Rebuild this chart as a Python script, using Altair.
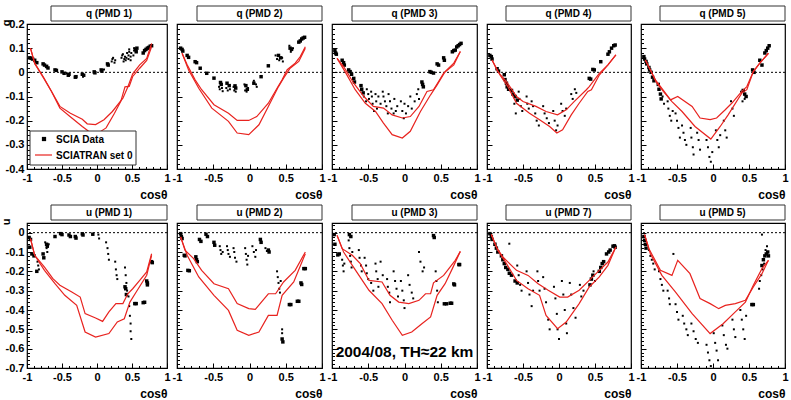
import altair as alt
import pandas as pd

FONT = "Liberation Sans"
RED = "#e8231f"

# ---------------------------------------------------------------- axis ticks
X_TICKS = [-1, -0.5, 0, 0.5, 1]
X_MINOR = [-0.9, -0.8, -0.7, -0.6, -0.4, -0.3, -0.2, -0.1,
           0.1, 0.2, 0.3, 0.4, 0.6, 0.7, 0.8, 0.9]
Q_TICKS = [-0.4, -0.3, -0.2, -0.1, 0, 0.1, 0.2]
U_TICKS = [-0.7, -0.6, -0.5, -0.4, -0.3, -0.2, -0.1, 0]
Q_MINOR = [round(-0.4 + 0.02 * k, 2) for k in range(31) if k % 5]
U_MINOR = [round(-0.7 + 0.02 * k, 2) for k in range(38) if k % 5]

LEGEND_DATA = "SCIA Data"
LEGEND_MODEL = "SCIATRAN set 0"
NOTE = "2004/08, TH≈22 km"

# ---------------------------------------------------------------- q (PMD 1)
q1_upper = [(-0.95, 0.10), (-0.89, 0.037), (-0.77, -0.017), (-0.675, -0.066), (-0.53, -0.141),
            (-0.38, -0.169), (-0.21, -0.194), (-0.14, -0.213), (-0.02, -0.216), (0.10, -0.196),
            (0.22, -0.162), (0.37, -0.107), (0.44, -0.061), (0.51, -0.006), (0.61, 0.031),
            (0.71, 0.058), (0.78, 0.12)]
q1_lower = [(-0.95, 0.10), (-0.89, 0.037), (-0.76, -0.025), (-0.65, -0.079), (-0.53, -0.148),
            (-0.36, -0.189), (-0.21, -0.224), (-0.12, -0.244), (-0.02, -0.258), (0.13, -0.23),
            (0.25, -0.169), (0.34, -0.12), (0.40, -0.06), (0.46, -0.058), (0.51, -0.017),
            (0.61, 0.017), (0.71, 0.049), (0.78, 0.106)]
q1_sq = [(-0.96, 0.06), (-0.94, 0.058), (-0.92, 0.055), (-0.89, 0.05), (-0.86, 0.04),
         (-0.77, 0.035), (-0.75, 0.03), (-0.72, 0.025), (-0.70, 0.018), (-0.60, 0.01),
         (-0.58, 0.008), (-0.50, 0.002), (-0.47, -0.004), (-0.41, -0.012), (-0.40, -0.008),
         (-0.31, -0.02), (-0.30, -0.018), (-0.21, -0.008), (-0.19, -0.012), (-0.04, 0.002),
         (-0.03, -0.002), (0.06, 0.01), (0.07, 0.005), (0.15, 0.035), (0.16, 0.03),
         (0.55, 0.095), (0.56, 0.085), (0.57, 0.10), (0.66, 0.08), (0.68, 0.09), (0.70, 0.095),
         (0.72, 0.10), (0.74, 0.103), (0.76, 0.108), (0.78, 0.11)]
q1_dots = [(0.21, 0.045), (0.22, 0.055), (0.23, 0.06), (0.25, 0.04), (0.26, 0.05),
           (0.35, 0.06), (0.36, 0.07), (0.37, 0.075), (0.38, 0.045), (0.39, 0.055),
           (0.40, 0.065), (0.41, 0.05), (0.42, 0.06), (0.43, 0.08), (0.45, 0.055),
           (0.45, 0.07), (0.46, 0.085), (0.46, 0.095), (0.48, 0.05), (0.48, 0.065),
           (0.49, 0.08), (0.52, 0.07), (0.53, 0.09), (0.53, 0.10), (-0.72, 0.02),
           (-0.43, -0.005), (-0.20, -0.018), (0.10, 0.012)]

# ---------------------------------------------------------------- u (PMD 1)
u1_upper = [(-0.95, -0.031), (-0.89, -0.117), (-0.75, -0.178), (-0.63, -0.238), (-0.53, -0.272),
            (-0.36, -0.307), (-0.24, -0.333), (-0.17, -0.419), (-0.02, -0.441), (0.08, -0.459),
            (0.17, -0.41), (0.27, -0.367), (0.37, -0.367), (0.44, -0.316), (0.51, -0.29),
            (0.61, -0.247), (0.71, -0.203), (0.78, -0.109)]
u1_lower = [(-0.95, -0.031), (-0.89, -0.117), (-0.75, -0.195), (-0.60, -0.264), (-0.46, -0.324),
            (-0.29, -0.376), (-0.17, -0.514), (-0.02, -0.54), (0.17, -0.522), (0.29, -0.462),
            (0.39, -0.445), (0.47, -0.359), (0.56, -0.307), (0.71, -0.22), (0.78, -0.117)]
u1_sq = [(-0.97, -0.025), (-0.95, -0.035), (-0.96, -0.075), (-0.93, -0.11), (-0.90, -0.12),
         (-0.86, -0.20), (-0.77, -0.11), (-0.76, -0.13), (-0.72, -0.06), (-0.71, -0.07),
         (-0.60, -0.02), (-0.52, -0.005), (-0.50, -0.01), (-0.40, -0.012), (-0.38, -0.02),
         (-0.31, -0.02), (-0.30, -0.028), (-0.21, -0.006), (-0.20, -0.012), (-0.06, -0.008),
         (0.40, -0.28), (0.41, -0.29), (0.42, -0.32), (0.54, -0.367), (0.56, -0.367),
         (0.66, -0.362), (0.68, -0.36), (0.71, -0.25), (0.72, -0.26), (0.72, -0.27),
         (0.78, -0.15), (0.79, -0.155)]
u1_dots = [(-0.85, -0.15), (-0.84, -0.17), (-0.83, -0.19), (-0.74, -0.05), (-0.72, -0.08),
           (-0.71, -0.10), (-0.69, -0.06), (0.02, -0.01), (0.03, -0.03), (0.13, -0.05),
           (0.15, -0.08), (0.16, -0.11), (0.17, -0.14), (0.26, -0.15), (0.27, -0.19),
           (0.28, -0.22), (0.29, -0.24), (0.40, -0.18), (0.41, -0.22), (0.42, -0.26),
           (0.43, -0.30), (0.45, -0.33), (0.46, -0.38), (0.47, -0.43), (0.48, -0.47),
           (0.48, -0.51), (0.49, -0.55)]

# ---------------------------------------------------------------- q (PMD 2)
q2_upper = [(-0.93, 0.079), (-0.86, 0.031), (-0.75, -0.031), (-0.66, -0.072), (-0.49, -0.134),
            (-0.29, -0.169), (-0.17, -0.199), (-0.01, -0.199), (0.10, -0.183), (0.26, -0.128),
            (0.38, -0.066), (0.45, -0.031), (0.52, 0.011), (0.63, 0.038), (0.70, 0.065),
            (0.77, 0.106)]
q2_lower = [(-0.93, 0.079), (-0.84, 0.01), (-0.70, -0.066), (-0.52, -0.148), (-0.29, -0.203),
            (-0.17, -0.251), (-0.01, -0.258), (0.13, -0.217), (0.26, -0.141), (0.40, -0.059),
            (0.47, -0.024), (0.56, 0.017), (0.68, 0.045), (0.77, 0.10)]
q2_sq = [(-0.95, 0.10), (-0.93, 0.095), (-0.92, 0.088), (-0.86, 0.07), (-0.84, 0.062),
         (-0.75, 0.044), (-0.73, 0.04), (-0.68, 0.017), (-0.59, -0.004), (-0.49, -0.024),
         (-0.40, -0.042), (-0.39, -0.05), (-0.31, -0.045), (-0.28, -0.055), (-0.20, -0.056),
         (-0.19, -0.065), (-0.05, -0.055), (-0.03, -0.07), (0.06, -0.045), (0.16, -0.018),
         (0.26, 0.027), (0.40, 0.07), (0.43, 0.06), (0.56, 0.10), (0.58, 0.095), (0.68, 0.125),
         (0.70, 0.13), (0.72, 0.138), (0.74, 0.142), (0.76, 0.145)]
q2_dots = [(-0.42, -0.06), (-0.41, -0.07), (-0.38, -0.065), (-0.37, -0.078), (-0.32, -0.065),
           (-0.30, -0.075), (-0.27, -0.07), (-0.22, -0.06), (-0.21, -0.075), (-0.19, -0.08),
           (-0.07, -0.05), (-0.06, -0.075), (-0.04, -0.08), (-0.02, -0.065), (0.06, -0.035),
           (0.09, -0.05), (0.10, -0.06), (0.36, 0.07), (0.38, 0.055), (0.41, 0.05),
           (0.45, 0.06), (0.46, 0.045), (0.55, 0.11), (0.57, 0.085), (0.60, 0.10)]

# ---------------------------------------------------------------- u (PMD 2)
u2_upper = [(-0.95, -0.022), (-0.89, -0.091), (-0.77, -0.134), (-0.66, -0.195), (-0.49, -0.264),
            (-0.29, -0.29), (-0.17, -0.367), (-0.01, -0.393), (0.08, -0.397), (0.26, -0.316),
            (0.36, -0.316), (0.47, -0.255), (0.63, -0.195), (0.77, -0.10)]
u2_lower = [(-0.95, -0.022), (-0.86, -0.117), (-0.70, -0.229), (-0.49, -0.324), (-0.29, -0.402),
            (-0.17, -0.505), (-0.01, -0.531), (0.13, -0.514), (0.26, -0.428), (0.38, -0.428),
            (0.45, -0.324), (0.61, -0.255), (0.77, -0.109)]
u2_sq = [(-0.95, -0.005), (-0.94, -0.02), (-0.93, -0.03), (-0.90, -0.117), (-0.89, -0.12),
         (-0.85, -0.195), (-0.83, -0.197), (-0.74, -0.125), (-0.73, -0.14), (-0.72, -0.15),
         (-0.69, -0.035), (-0.67, -0.045), (-0.60, -0.008), (-0.58, -0.02), (-0.49, -0.05),
         (-0.48, -0.065), (0.15, -0.035), (0.16, -0.05), (0.26, -0.09), (0.27, -0.10),
         (0.45, -0.55), (0.46, -0.565), (0.55, -0.372), (0.57, -0.372), (0.66, -0.355),
         (0.68, -0.355), (0.71, -0.26), (0.72, -0.268), (0.75, -0.186), (0.77, -0.186)]
u2_dots = [(-0.41, -0.07), (-0.40, -0.09), (-0.39, -0.11), (-0.37, -0.10), (-0.31, -0.07),
           (-0.30, -0.09), (-0.29, -0.11), (-0.27, -0.125), (-0.22, -0.08), (-0.21, -0.10),
           (-0.20, -0.13), (-0.18, -0.15), (-0.06, -0.08), (-0.05, -0.11), (-0.04, -0.14),
           (-0.03, -0.165), (-0.02, -0.12), (0.04, -0.07), (0.06, -0.10), (0.08, -0.125),
           (0.09, -0.09), (0.22, -0.08), (0.24, -0.095), (0.38, -0.20), (0.39, -0.23),
           (0.40, -0.26), (0.41, -0.29), (0.42, -0.31), (0.43, -0.25), (0.45, -0.50),
           (0.45, -0.52)]

# ---------------------------------------------------------------- q (PMD 3)
q3_upper = [(-0.93, 0.058), (-0.84, 0.024), (-0.70, -0.045), (-0.56, -0.10), (-0.43, -0.141),
            (-0.29, -0.148), (-0.17, -0.176), (-0.03, -0.189), (0.08, -0.183), (0.20, -0.141),
            (0.31, -0.079), (0.40, -0.072), (0.47, -0.038), (0.54, -0.003), (0.68, 0.031),
            (0.77, 0.086)]
q3_lower = [(-0.93, 0.058), (-0.82, 0.003), (-0.68, -0.072), (-0.54, -0.128), (-0.40, -0.162),
            (-0.29, -0.21), (-0.17, -0.258), (-0.03, -0.272), (0.08, -0.244), (0.22, -0.162),
            (0.36, -0.093), (0.45, -0.052), (0.56, 0.003), (0.68, 0.038), (0.77, 0.086)]
q3_sq = [(-0.96, 0.09), (-0.95, 0.08), (-0.94, 0.075), (-0.86, 0.05), (-0.84, 0.04),
         (-0.83, 0.03), (-0.77, 0.01), (-0.75, 0.003), (-0.73, -0.008), (-0.70, -0.025),
         (-0.69, -0.04), (-0.60, -0.055), (-0.59, -0.07), (-0.57, -0.085), (0.24, -0.04),
         (0.25, -0.05), (0.26, -0.06), (0.35, 0.003), (0.37, 0.0), (0.40, -0.003),
         (0.45, 0.035), (0.47, 0.03), (0.54, 0.06), (0.55, 0.05), (0.66, 0.085), (0.68, 0.09),
         (0.70, 0.092), (0.72, 0.105), (0.74, 0.11), (0.76, 0.115), (0.78, 0.12)]
q3_dots = [(-0.56, -0.10), (-0.53, -0.12), (-0.52, -0.07), (-0.50, -0.09), (-0.49, -0.11),
           (-0.46, -0.08), (-0.45, -0.10), (-0.44, -0.13), (-0.42, -0.16), (-0.40, -0.09),
           (-0.39, -0.12), (-0.38, -0.15), (-0.36, -0.10), (-0.33, -0.13), (-0.30, -0.08),
           (-0.29, -0.10), (-0.27, -0.12), (-0.25, -0.14), (-0.23, -0.17), (-0.22, -0.09),
           (-0.20, -0.12), (-0.18, -0.15), (-0.15, -0.17), (-0.14, -0.11), (-0.12, -0.16),
           (-0.10, -0.14), (-0.05, -0.12), (-0.03, -0.16), (-0.01, -0.19), (0.0, -0.13),
           (0.02, -0.17), (0.05, -0.14), (0.08, -0.10), (0.10, -0.15), (0.14, -0.12),
           (0.17, -0.09), (0.19, -0.07), (0.20, -0.11)]

# ---------------------------------------------------------------- u (PMD 3)
u3_upper = [(-0.93, -0.014), (-0.86, -0.083), (-0.72, -0.117), (-0.61, -0.16), (-0.49, -0.247),
            (-0.31, -0.255), (-0.20, -0.324), (-0.08, -0.359), (0.06, -0.367), (0.20, -0.35),
            (0.29, -0.316), (0.36, -0.316), (0.40, -0.259), (0.54, -0.221), (0.70, -0.143),
            (0.77, -0.097)]
u3_lower = [(-0.93, -0.014), (-0.84, -0.10), (-0.72, -0.169), (-0.49, -0.298), (-0.31, -0.367),
            (-0.17, -0.453), (-0.03, -0.531), (0.10, -0.514), (0.24, -0.471), (0.36, -0.436),
            (0.45, -0.324), (0.56, -0.264), (0.66, -0.186), (0.77, -0.097)]
u3_sq = [(-0.97, -0.01), (-0.96, -0.06), (-0.92, -0.115), (-0.90, -0.11), (-0.76, -0.01),
         (-0.74, -0.02), (0.40, -0.015), (0.41, -0.025), (0.75, -0.165), (0.76, -0.165),
         (0.68, -0.265), (0.69, -0.27), (0.55, -0.368), (0.58, -0.368), (0.63, -0.365),
         (0.65, -0.365)]
u3_dots = [(-0.86, -0.14), (-0.85, -0.17), (-0.84, -0.20), (-0.83, -0.16), (-0.77, -0.04),
           (-0.76, -0.08), (-0.75, -0.12), (-0.74, -0.15), (-0.73, -0.18), (-0.72, -0.10),
           (-0.63, -0.09), (-0.62, -0.13), (-0.60, -0.17), (-0.59, -0.20), (-0.55, -0.13),
           (-0.53, -0.17), (-0.52, -0.21), (-0.50, -0.24), (-0.46, -0.26), (-0.43, -0.30),
           (-0.40, -0.16), (-0.39, -0.20), (-0.37, -0.24), (-0.36, -0.28), (-0.33, -0.15),
           (-0.30, -0.22), (-0.24, -0.24), (-0.23, -0.28), (-0.21, -0.31), (-0.20, -0.36),
           (-0.15, -0.20), (-0.13, -0.25), (-0.11, -0.29), (-0.09, -0.33), (-0.05, -0.25),
           (-0.03, -0.30), (-0.01, -0.35), (0.0, -0.39), (0.05, -0.22), (0.07, -0.27),
           (0.10, -0.31), (0.12, -0.34), (0.20, -0.10), (0.22, -0.15), (0.25, -0.20),
           (0.27, -0.18), (0.43, -0.20), (0.44, -0.25), (0.45, -0.30), (0.46, -0.36)]

# ---------------------------------------------------------------- q (PMD 4)
q4_upper = [(-0.93, 0.051), (-0.85, 0.003), (-0.73, -0.038), (-0.59, -0.10), (-0.50, -0.121),
            (-0.32, -0.141), (-0.18, -0.162), (-0.02, -0.176), (0.10, -0.155), (0.21, -0.121),
            (0.38, -0.072), (0.42, -0.059), (0.56, -0.004), (0.68, 0.031), (0.79, 0.072)]
q4_lower = [(-0.93, 0.051), (-0.82, -0.011), (-0.71, -0.059), (-0.59, -0.128), (-0.41, -0.169),
            (-0.27, -0.196), (-0.13, -0.224), (-0.03, -0.251), (0.05, -0.238), (0.17, -0.176),
            (0.28, -0.128), (0.40, -0.079), (0.45, -0.072), (0.56, -0.011), (0.68, 0.031),
            (0.79, 0.072)]
q4_sq = [(-0.96, 0.07), (-0.94, 0.065), (-0.93, 0.055), (-0.86, 0.015), (-0.84, 0.005),
         (-0.76, -0.01), (-0.75, -0.03), (-0.73, -0.045), (-0.72, -0.06), (-0.70, -0.07),
         (-0.66, -0.075), (-0.64, -0.09), (-0.61, -0.10), (-0.58, -0.115), (0.42, -0.025),
         (0.44, -0.028), (0.47, 0.012), (0.49, 0.01), (0.58, 0.044), (0.68, 0.075),
         (0.70, 0.085), (0.73, 0.10), (0.76, 0.11), (0.78, 0.113)]
q4_dots = [(-0.62, -0.13), (-0.60, -0.17), (-0.56, -0.08), (-0.55, -0.11), (-0.53, -0.14),
           (-0.51, -0.16), (-0.45, -0.10), (-0.44, -0.13), (-0.42, -0.15), (-0.38, -0.12),
           (-0.36, -0.14), (-0.33, -0.17), (-0.31, -0.20), (-0.28, -0.22), (-0.22, -0.14),
           (-0.20, -0.17), (-0.17, -0.19), (-0.14, -0.21), (-0.08, -0.16), (-0.06, -0.20),
           (-0.04, -0.24), (-0.02, -0.22), (0.03, -0.13), (0.05, -0.16), (0.08, -0.18),
           (0.10, -0.15), (0.17, -0.09), (0.19, -0.11), (0.22, -0.07), (0.24, -0.085)]

# ---------------------------------------------------------------- u (PMD 7)
u7_upper = [(-0.94, -0.01), (-0.87, -0.074), (-0.78, -0.126), (-0.59, -0.195), (-0.43, -0.221),
            (-0.29, -0.264), (-0.15, -0.298), (0.01, -0.333), (0.12, -0.333), (0.28, -0.298),
            (0.42, -0.247), (0.56, -0.195), (0.68, -0.152), (0.79, -0.074)]
u7_lower = [(-0.94, -0.01), (-0.85, -0.091), (-0.73, -0.16), (-0.59, -0.247), (-0.43, -0.29),
            (-0.27, -0.324), (-0.18, -0.428), (-0.02, -0.497), (0.10, -0.462), (0.28, -0.367),
            (0.42, -0.281), (0.56, -0.229), (0.68, -0.169), (0.79, -0.074)]
u7_sq = [(-0.96, -0.005), (-0.94, -0.02), (-0.93, -0.035), (-0.89, -0.06), (-0.87, -0.08),
         (-0.85, -0.10), (-0.80, -0.12), (-0.78, -0.14), (-0.76, -0.16), (-0.74, -0.18),
         (-0.71, -0.19), (-0.69, -0.21), (-0.66, -0.22), (-0.61, -0.25), (-0.58, -0.26),
         (0.43, -0.27), (0.45, -0.24), (0.47, -0.22), (0.56, -0.20), (0.58, -0.18),
         (0.60, -0.16), (0.62, -0.15), (0.66, -0.11), (0.69, -0.10), (0.71, -0.09),
         (0.75, -0.07), (0.77, -0.068), (0.78, -0.075)]
u7_dots = [(-0.69, -0.057), (-0.58, -0.17), (-0.56, -0.22), (-0.54, -0.27), (-0.52, -0.30),
           (-0.45, -0.20), (-0.43, -0.26), (-0.41, -0.32), (-0.38, -0.38), (-0.36, -0.30),
           (-0.30, -0.20), (-0.29, -0.25), (-0.27, -0.30), (-0.22, -0.23), (-0.20, -0.29),
           (-0.18, -0.36), (-0.15, -0.45), (-0.13, -0.50), (-0.07, -0.28), (-0.05, -0.34),
           (-0.03, -0.42), (-0.02, -0.50), (0.0, -0.55), (0.04, -0.25), (0.06, -0.32),
           (0.08, -0.40), (0.10, -0.47), (0.11, -0.52), (0.15, -0.26), (0.17, -0.32),
           (0.20, -0.39), (0.23, -0.44), (0.29, -0.27), (0.31, -0.33), (0.34, -0.30),
           (0.48, -0.20), (0.50, -0.25)]

# ---------------------------------------------------------------- q (PMD 5)
q5_upper = [(-0.94, 0.051), (-0.87, 0.01), (-0.80, -0.031), (-0.71, -0.066), (-0.59, -0.114),
            (-0.49, -0.10), (-0.29, -0.141), (-0.18, -0.189), (-0.04, -0.196), (0.05, -0.189),
            (0.17, -0.155), (0.26, -0.128), (0.40, -0.079), (0.47, -0.059), (0.56, 0.003),
            (0.65, 0.038), (0.77, 0.079)]
q5_lower = [(-0.94, 0.051), (-0.87, 0.01), (-0.78, -0.045), (-0.69, -0.079), (-0.57, -0.121),
            (-0.43, -0.162), (-0.25, -0.224), (-0.03, -0.276), (0.10, -0.224), (0.21, -0.176),
            (0.40, -0.086), (0.47, -0.072), (0.56, 0.003), (0.65, 0.038), (0.77, 0.079)]
q5_sq = [(-0.96, 0.065), (-0.95, 0.055), (-0.93, 0.045), (-0.92, 0.035), (-0.89, 0.02),
         (-0.88, 0.01), (-0.86, 0.0), (-0.84, -0.02), (-0.82, -0.035), (-0.76, -0.05),
         (-0.75, -0.07), (-0.73, -0.09), (-0.72, -0.11), (0.42, -0.075), (0.44, -0.09),
         (0.46, -0.10), (0.55, 0.01), (0.57, 0.0), (0.65, 0.05), (0.68, 0.03), (0.72, 0.08),
         (0.74, 0.09), (0.76, 0.10), (0.78, 0.11)]
q5_dots = [(-0.70, -0.10), (-0.68, -0.13), (-0.63, -0.12), (-0.62, -0.15), (-0.60, -0.18),
           (-0.58, -0.20), (-0.56, -0.16), (-0.52, -0.17), (-0.50, -0.20), (-0.48, -0.23),
           (-0.46, -0.27), (-0.43, -0.22), (-0.41, -0.25), (-0.39, -0.28), (-0.37, -0.30),
           (-0.31, -0.23), (-0.30, -0.27), (-0.28, -0.31), (-0.27, -0.34), (-0.22, -0.25),
           (-0.20, -0.28), (-0.18, -0.32), (-0.09, -0.28), (-0.07, -0.31), (-0.05, -0.35),
           (-0.03, -0.37), (-0.01, -0.33), (0.04, -0.24), (0.06, -0.28), (0.08, -0.31),
           (0.10, -0.26), (0.15, -0.20), (0.17, -0.24), (0.19, -0.27), (0.25, -0.12),
           (0.27, -0.15), (0.29, -0.18), (0.39, -0.08), (0.41, -0.12), (0.44, -0.11)]

# ---------------------------------------------------------------- u (PMD 5)
u5_upper = [(-0.95, -0.01), (-0.89, -0.083), (-0.73, -0.195), (-0.57, -0.221), (-0.49, -0.143),
            (-0.32, -0.212), (-0.18, -0.341), (-0.04, -0.367), (0.08, -0.393), (0.17, -0.376),
            (0.31, -0.367), (0.45, -0.35), (0.56, -0.281), (0.68, -0.212), (0.77, -0.143)]
u5_lower = [(-0.95, -0.01), (-0.87, -0.109), (-0.71, -0.221), (-0.52, -0.307), (-0.29, -0.419),
            (-0.04, -0.522), (0.14, -0.471), (0.31, -0.41), (0.45, -0.359), (0.56, -0.272),
            (0.68, -0.186), (0.77, -0.143)]
u5_sq = [(-0.96, -0.02), (-0.95, -0.04), (-0.94, -0.06), (-0.93, -0.08), (0.54, -0.372),
         (0.56, -0.372), (0.68, -0.17), (0.70, -0.14), (0.72, -0.12), (0.74, -0.11),
         (0.76, -0.10), (0.77, -0.12)]
u5_dots = [(-0.89, -0.09), (-0.87, -0.12), (-0.85, -0.14), (-0.83, -0.16), (-0.81, -0.19),
           (-0.75, -0.20), (-0.73, -0.24), (-0.71, -0.27), (-0.69, -0.30), (-0.63, -0.30),
           (-0.61, -0.34), (-0.60, -0.37), (-0.55, -0.11), (-0.52, -0.37), (-0.50, -0.41),
           (-0.48, -0.45), (-0.42, -0.43), (-0.40, -0.47), (-0.37, -0.50), (-0.35, -0.53),
           (-0.30, -0.47), (-0.27, -0.51), (-0.24, -0.55), (-0.21, -0.57), (-0.09, -0.58),
           (-0.07, -0.62), (-0.05, -0.66), (-0.03, -0.69), (0.01, -0.52), (0.03, -0.57),
           (0.05, -0.61), (0.07, -0.66), (0.13, -0.48), (0.15, -0.53), (0.18, -0.58),
           (0.20, -0.60), (0.27, -0.45), (0.29, -0.50), (0.31, -0.54), (0.38, -0.40),
           (0.40, -0.45), (0.42, -0.50), (0.44, -0.55), (0.46, -0.43), (0.64, -0.29),
           (0.65, -0.25), (0.67, -0.22), (0.68, -0.01), (0.69, -0.19), (0.71, -0.16),
           (0.73, -0.09), (0.75, -0.07)]


def xy(pairs):
    return pd.DataFrame(pairs, columns=["x", "y"])


def curve(pairs):
    df = xy(pairs)
    df["i"] = range(len(df))
    return df


H = 145


def panel(kind, title, upper, lower, squares, dots, width, first=False, legend=False, note=False):
    ydom = [-0.4, 0.2] if kind == "q" else [-0.7, 0.05]
    ymajor = Q_TICKS if kind == "q" else U_TICKS
    yminor = Q_MINOR if kind == "q" else U_MINOR
    xs = alt.Scale(domain=[-1, 1], nice=False, zero=False)
    ys = alt.Scale(domain=ydom, nice=False, zero=False)
    lab = dict(labelFont=FONT, labelFontWeight="bold", labelFontSize=11,
               labelColor="black", labelExpr="'' + datum.value",
               labelOverlap=False, labelFlush=False, labelBound=False,
               ticks=False, domain=False, grid=False)

    x_lab = alt.Axis(values=X_TICKS, labelPadding=3, title="cosθ", titleFont=FONT,
                     titleFontWeight="bold", titleFontSize=12, titleColor="black",
                     titleAnchor="end", titleAlign="right", titleX=width, titleY=29,
                     titleBaseline="alphabetic", **lab)
    if first:
        y_lab = alt.Axis(values=ymajor, labelPadding=3, title=kind, titleFont=FONT,
                         titleFontWeight="bold", titleFontSize=11, titleColor="black",
                         titleAngle=-90, titleAnchor="end", titleAlign="right",
                         titleX=-18, titleY=-5, titleBaseline="alphabetic", **lab)
    else:
        y_lab = None

    def ticks(orient, offset, values, size):
        return alt.Axis(orient=orient, offset=offset, values=values, labels=False,
                        tickSize=size, tickColor="black", tickWidth=1,
                        domain=False, grid=False, title=None)

    zero = alt.Chart(pd.DataFrame({"y": [0]})).mark_rule(
        color="black", strokeDash=[2, 2], strokeWidth=1
    ).encode(y=alt.Y("y:Q", scale=ys, axis=None))

    dot_layer = alt.Chart(xy(dots)).mark_square(size=4, color="black", opacity=1).encode(
        x=alt.X("x:Q", scale=xs, axis=None), y=alt.Y("y:Q", scale=ys, axis=None))

    sq_layer = alt.Chart(xy(squares)).mark_square(size=12, color="black", opacity=1).encode(
        x=alt.X("x:Q", scale=xs, axis=x_lab), y=alt.Y("y:Q", scale=ys, axis=y_lab))

    up_layer = alt.Chart(curve(upper)).mark_line(color=RED, strokeWidth=1.2).encode(
        x=alt.X("x:Q", scale=xs, axis=ticks("top", -H, X_TICKS, 5)),
        y=alt.Y("y:Q", scale=ys, axis=ticks("right", -width, ymajor, 5)),
        order=alt.Order("i:Q"))

    lo_layer = alt.Chart(curve(lower)).mark_line(color=RED, strokeWidth=1.2).encode(
        x=alt.X("x:Q", scale=xs, axis=ticks("top", -H, X_MINOR, 2.5)),
        y=alt.Y("y:Q", scale=ys, axis=ticks("right", -width, yminor, 2.5)),
        order=alt.Order("i:Q"))

    layers = [zero, dot_layer, sq_layer, up_layer, lo_layer]

    if legend:
        box = alt.Chart(pd.DataFrame({"k": [0]})).mark_rect(
            fill="white", stroke="#333333", strokeWidth=1
        ).encode(x=alt.value(3), x2=alt.value(109), y=alt.value(107), y2=alt.value(141))
        mk = alt.Chart(pd.DataFrame({"k": [0]})).mark_square(size=18, color="black", opacity=1).encode(
            x=alt.value(17), y=alt.value(115))
        ln = alt.Chart(pd.DataFrame({"k": [0]})).mark_rule(color=RED, strokeWidth=1.2).encode(
            x=alt.value(8), x2=alt.value(25), y=alt.value(131))
        t1 = alt.Chart(pd.DataFrame({"label": [LEGEND_DATA]})).mark_text(
            font=FONT, fontWeight="bold", fontSize=10, color="black", align="left", baseline="middle"
        ).encode(x=alt.value(29), y=alt.value(116), text="label:N")
        t2 = alt.Chart(pd.DataFrame({"label": [LEGEND_MODEL]})).mark_text(
            font=FONT, fontWeight="bold", fontSize=10, color="black", align="left", baseline="middle"
        ).encode(x=alt.value(29), y=alt.value(132), text="label:N")
        layers += [box, mk, ln, t1, t2]

    if note:
        layers.append(alt.Chart(pd.DataFrame({"label": [NOTE]})).mark_text(
            font=FONT, fontWeight="bold", fontSize=15.5, color="black", align="center",
            baseline="middle"
        ).encode(x=alt.value(width / 2), y=alt.value(129), text="label:N"))

    bx0 = 24 if first else width - 125
    tbox = alt.Chart(pd.DataFrame({"label": [title]})).mark_rect(
        fill="white", stroke="#333333", strokeWidth=1
    ).encode(x=alt.value(bx0), x2=alt.value(width), y=alt.value(-18), y2=alt.value(-3))
    ttxt = alt.Chart(pd.DataFrame({"label": [title]})).mark_text(
        font=FONT, fontWeight="bold", fontSize=10, color="black", align="center", baseline="middle"
    ).encode(x=alt.value((bx0 + width) / 2), y=alt.value(-10.5), text="label:N")
    layers += [tbox, ttxt]

    return alt.layer(*layers).properties(width=width, height=H).resolve_axis(
        x="independent", y="independent")


WIDTHS = [140, 145, 145, 144, 144]

panels = [
    panel("q", "q (PMD 1)", q1_upper, q1_lower, q1_sq, q1_dots, WIDTHS[0], first=True, legend=True),
    panel("q", "q (PMD 2)", q2_upper, q2_lower, q2_sq, q2_dots, WIDTHS[1]),
    panel("q", "q (PMD 3)", q3_upper, q3_lower, q3_sq, q3_dots, WIDTHS[2]),
    panel("q", "q (PMD 4)", q4_upper, q4_lower, q4_sq, q4_dots, WIDTHS[3]),
    panel("q", "q (PMD 5)", q5_upper, q5_lower, q5_sq, q5_dots, WIDTHS[4]),
    panel("u", "u (PMD 1)", u1_upper, u1_lower, u1_sq, u1_dots, WIDTHS[0], first=True),
    panel("u", "u (PMD 2)", u2_upper, u2_lower, u2_sq, u2_dots, WIDTHS[1]),
    panel("u", "u (PMD 3)", u3_upper, u3_lower, u3_sq, u3_dots, WIDTHS[2], note=True),
    panel("u", "u (PMD 7)", u7_upper, u7_lower, u7_sq, u7_dots, WIDTHS[3]),
    panel("u", "u (PMD 5)", u5_upper, u5_lower, u5_sq, u5_dots, WIDTHS[4]),
]

chart = alt.concat(
    *panels, columns=5, spacing={"row": 54, "column": 10}, bounds="flush", align="each"
).properties(
    padding={"left": -1, "top": 4, "right": 0, "bottom": 0}, background="white"
).configure_view(stroke="black", strokeWidth=1.2)

chart.save("out.html", embed_options={"renderer": "svg", "actions": False})
